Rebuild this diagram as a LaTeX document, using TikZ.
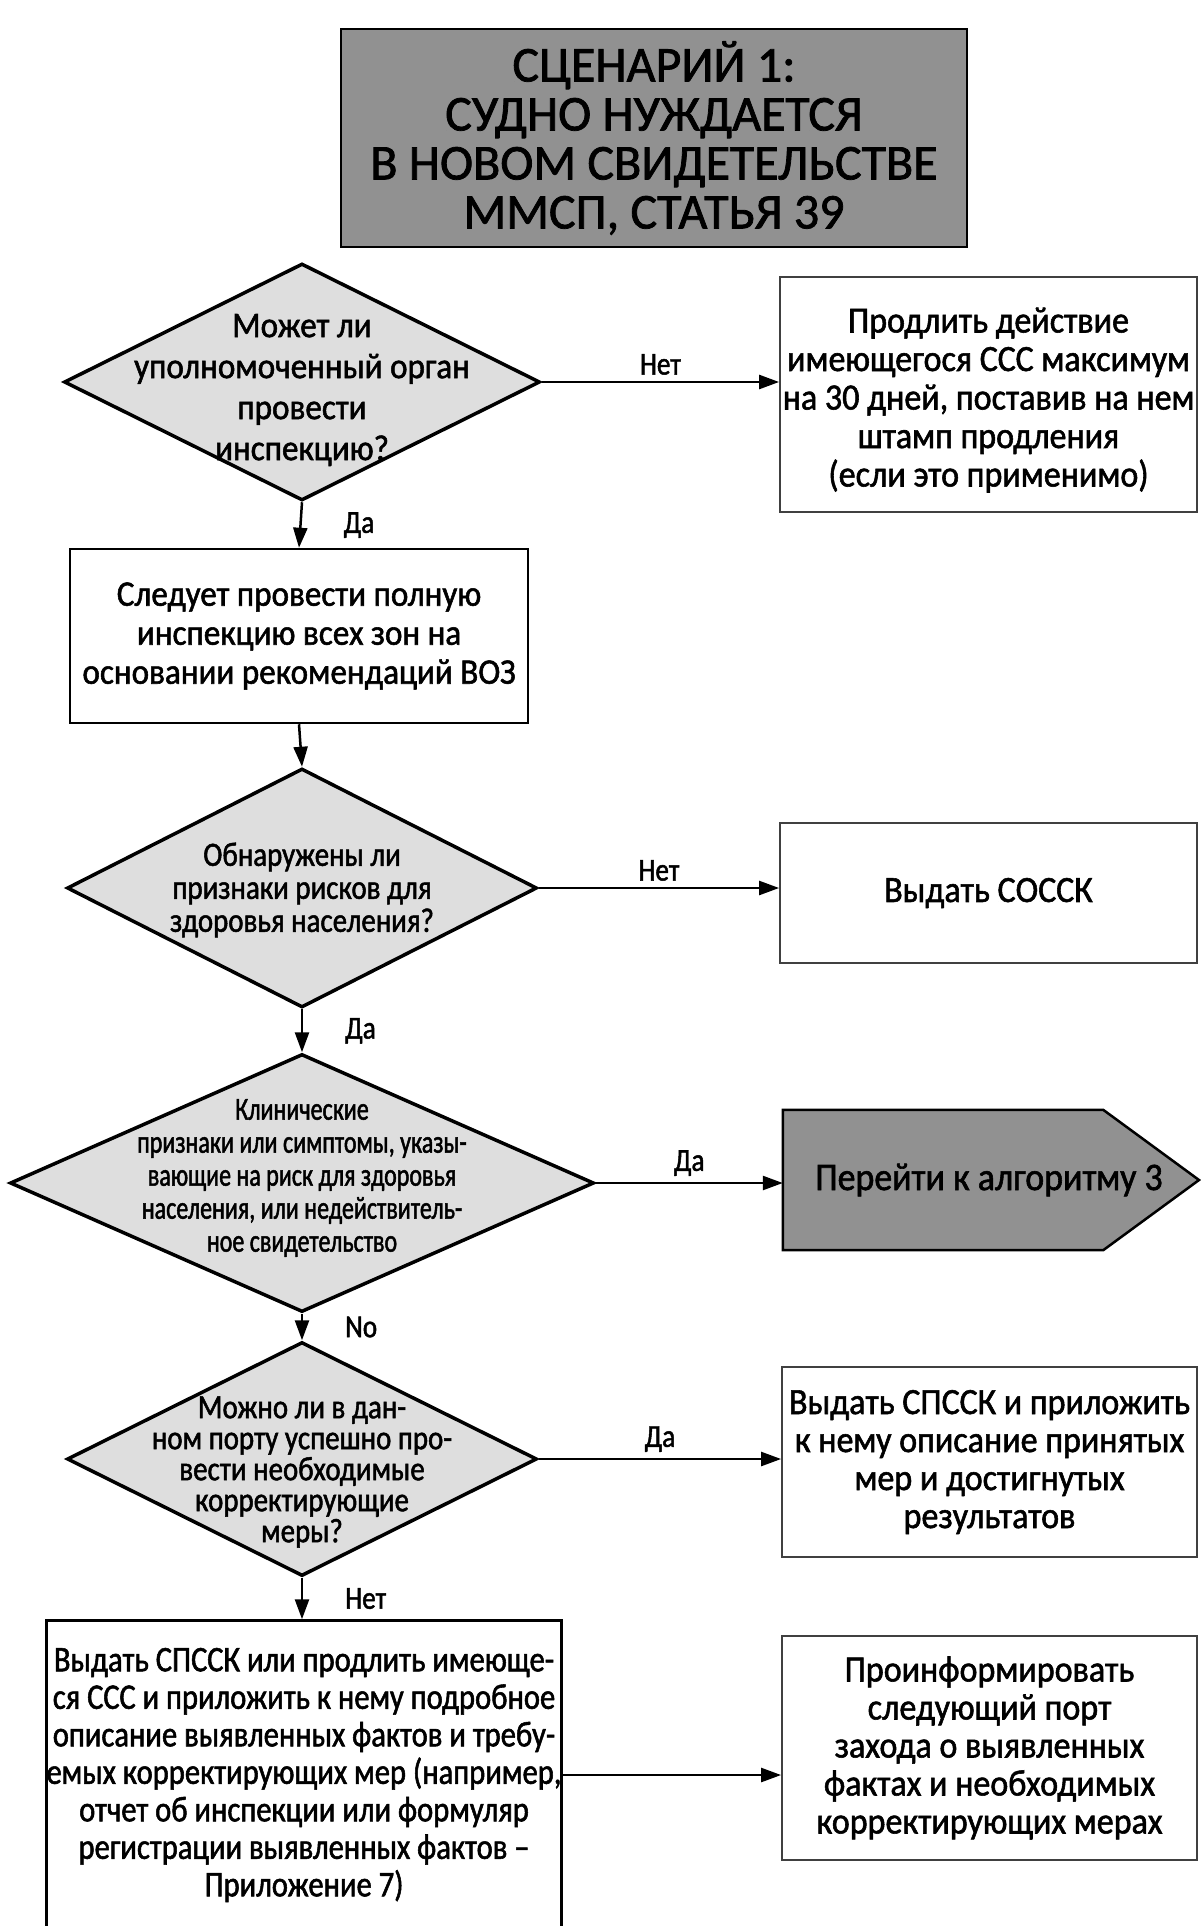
\documentclass[tikz,border=0pt]{standalone}
\usepackage{fontspec}
\setmainfont{Carlito}[FakeBold=1.5]
\newfontfamily\MidFont[FakeStretch=0.92,FakeBold=1.5]{Carlito}
\newfontfamily\NarrowFont[FakeStretch=0.85,FakeBold=1.5]{Carlito}
\newfontfamily\NarrowerFont[FakeStretch=0.75,FakeBold=1.5]{Carlito}
\usepackage{tikz}
\usetikzlibrary{arrows.meta}
\usetikzlibrary{shapes.geometric}
\usepackage{xcolor}
\definecolor{ColA}{RGB}{145,145,145}
\definecolor{ColB}{RGB}{222,222,222}
\tikzstyle{TitleGraph}=[rectangle,draw=black,fill=ColA,line width=2.5pt,align=center,
inner sep=0pt,minimum width=626pt,minimum height=218pt,font=\fontsize{50}{49}\selectfont]
\tikzstyle{DecisionGraph}=[diamond,draw=black,fill=ColB,line width=3.5pt,inner sep=0pt]
\tikzstyle{TextGraph}=[align=center,inner sep=0pt]
\tikzstyle{ActionGraph}=[rectangle,draw=black,line width=2.5pt,align=center,inner sep=0pt]
\tikzstyle{ResultGraph}=[rectangle,draw=black!75,line width=1.8pt,align=center,inner sep=0pt,
font=\MidFont\fontsize{37}{38}\selectfont]
\tikzstyle{GoGraph}=[draw=black,fill=ColA,line width=2.5pt,line join=miter]
\tikzstyle{EdgeGraph}=[-{Triangle[length=20pt,width=14pt]},line width=2.5pt]
\tikzstyle{LabelGraph}=[font=\NarrowFont\fontsize{32}{32}\selectfont,inner sep=6pt]
\tikzstyle{VLabelGraph}=[LabelGraph,right,xshift=36pt]

\begin{document}
\begin{tikzpicture}[x=1pt,y=-1pt]
    \useasboundingbox(0,0)rectangle(1200,1926);
    % title
    \node[TitleGraph](title)at(654,138){СЦЕНАРИЙ 1:\\СУДНО НУЖДАЕТСЯ\\В НОВОМ СВИДЕТЕЛЬСТВЕ\\ММСП, СТАТЬЯ 39};
    % left column
    \node[DecisionGraph,minimum width=476pt,minimum height=237pt](q1)at(302,382){};
    \node[TextGraph,font=\MidFont\fontsize{36}{41}\selectfont](q1t)at(302,390){Может ли\\уполномоченный орган\\провести\\инспекцию?};
    \node[ActionGraph,minimum width=458pt,minimum height=174pt,font=\MidFont\fontsize{36}{39}\selectfont](act1)at(299,636){Следует провести полную\\инспекцию всех зон на\\основании рекомендаций ВОЗ};
    \node[DecisionGraph,minimum width=470pt,minimum height=239pt](q2)at(302,888){};
    \node[TextGraph,font=\NarrowFont\fontsize{34}{33}\selectfont](q2t)at(302,890){Обнаружены ли\\признаки рисков для\\здоровья населения?};
    \node[DecisionGraph,minimum width=584pt,minimum height=258pt](q3)at(302,1183){};
    \node[TextGraph,font=\NarrowerFont\fontsize{32}{33}\selectfont](q3t)at(302,1178){Клинические\\признаки или симптомы, указы-\\вающие на риск для здоровья\\населения, или недействитель-\\ное свидетельство};
    \node[DecisionGraph,minimum width=470pt,minimum height=234pt](q4)at(302,1459){};
    \node[TextGraph,font=\NarrowFont\fontsize{34}{31}\selectfont](q4t)at(302,1472){Можно ли в дан-\\ном порту успешно про-\\вести необходимые\\корректирующие\\меры?};
    \node[ActionGraph,minimum width=510pt,minimum height=309pt,font=\NarrowFont\fontsize{36}{37.5}\selectfont](act2)at(304,1775){Выдать СПССК или продлить имеюще-\\ся ССС и приложить к нему подробное\\описание выявленных фактов и требу-\\емых корректирующих мер (например,\\отчет об инспекции или формуляр\\регистрации выявленных фактов –\\Приложение 7)};
    % right column
    \node[ResultGraph,minimum width=417pt,minimum height=235pt](res1)at(988.5,394.5){};
    \node[TextGraph,font=\MidFont\fontsize{37}{38.5}\selectfont](res1t)at(988.5,400){Продлить действие\\имеющегося ССС максимум\\на 30 дней, поставив на нем\\штамп продления\\(если это применимо)};
    \node[ResultGraph,minimum width=417pt,minimum height=140pt](res2)at(988.5,893){Выдать СОССК};
    \node[inner sep=0pt,minimum width=320pt,minimum height=140pt](go3)at(943,1180){};
    \fill[ColA](go3.north east)--(1199,1180)--(go3.south east)--cycle;
    \fill[ColA](go3.north west)rectangle(go3.south east);
    \draw[GoGraph,fill=none](go3.north west)--(go3.north east)--(1199,1180)--(go3.south east)--(go3.south west)--cycle;
    \node[TextGraph,font=\MidFont\fontsize{39}{39}\selectfont](go3t)at(989,1180){Перейти к алгоритму 3};
    \node[ResultGraph,minimum width=415pt,minimum height=190pt](res3)at(989.5,1462){Выдать СПССК и приложить\\к нему описание принятых\\мер и достигнутых\\результатов};
    \node[ResultGraph,minimum width=415pt,minimum height=224pt](res4)at(989.5,1748){Проинформировать\\следующий порт\\захода о выявленных\\фактах и необходимых\\корректирующих мерах};
    % connectors
    \draw[EdgeGraph](q1.south)--node[VLabelGraph]{Да}(act1.north);
    \draw[EdgeGraph](act1.south)--(q2.north);
    \draw[EdgeGraph](q2.south)--node[VLabelGraph]{Да}(q3.north);
    \draw[EdgeGraph](q3.south)--node[VLabelGraph]{No}(q4.north);
    \draw[EdgeGraph](q4.south)--node[VLabelGraph]{Нет}(q4.south|-act2.north);
    \draw[EdgeGraph](q1.east)--node[LabelGraph,above]{Нет}(q1.east-|res1.west);
    \draw[EdgeGraph](q2.east)--node[LabelGraph,above]{Нет}(q2.east-|res2.west);
    \draw[EdgeGraph](q3.east)--node[LabelGraph,above]{Да}(q3.east-|go3.west);
    \draw[EdgeGraph](q4.east)--node[LabelGraph,above]{Да}(q4.east-|res3.west);
    \draw[EdgeGraph](act2.east)--(act2.east-|res4.west);
\end{tikzpicture}
\end{document}
